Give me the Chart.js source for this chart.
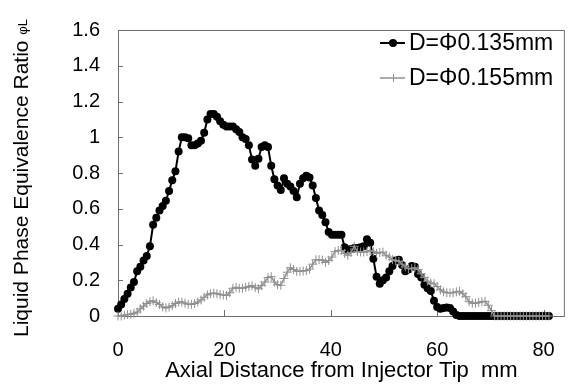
<!DOCTYPE html>
<html>
<head>
<meta charset="utf-8">
<script src="https://cdn.jsdelivr.net/npm/chart.js@4"></script>
<style>
  html, body { margin: 0; padding: 0; background: #fff; }
  canvas { display: block; }
</style>
</head>
<body>
<canvas id="phiChart" width="577" height="390"></canvas>
<script>
// axial distance from injector tip (mm)
const distance = [
  0, 0.6, 1.2, 1.8, 2.4, 3, 3.6, 4.2, 4.8, 5.4,
  6, 6.6, 7.2, 7.8, 8.4, 9, 9.6, 10.2, 10.8, 11.4,
  12, 12.6, 13.2, 13.8, 14.4, 15, 15.6, 16.2, 16.8, 17.4,
  18, 18.6, 19.2, 19.8, 20.4, 21, 21.6, 22.2, 22.8, 23.4,
  24, 24.6, 25.2, 25.8, 26.4, 27, 27.6, 28.2, 28.8, 29.4,
  30, 30.6, 31.2, 31.8, 32.4, 33, 33.6, 34.2, 34.8, 35.4,
  36, 36.6, 37.2, 37.8, 38.4, 39, 39.6, 40.2, 40.8, 41.4,
  42, 42.6, 43.2, 43.8, 44.4, 45, 45.6, 46.2, 46.8, 47.4,
  48, 48.6, 49.2, 49.8, 50.4, 51, 51.6, 52.2, 52.8, 53.4,
  54, 54.6, 55.2, 55.8, 56.4, 57, 57.6, 58.2, 58.8, 59.4,
  60, 60.6, 61.2, 61.8, 62.4, 63, 63.6, 64.2, 64.8, 65.4,
  66, 66.6, 67.2, 67.8, 68.4, 69, 69.6, 70.2, 70.8, 71.4,
  72, 72.6, 73.2, 73.8, 74.4, 75, 75.6, 76.2, 76.8, 77.4,
  78, 78.6, 79.2, 79.8, 80.4, 81
];

// D = 0.135 mm
const phi135 = [
  0.04, 0.065, 0.095, 0.125, 0.16, 0.19, 0.25, 0.275, 0.31, 0.335,
  0.39, 0.51, 0.55, 0.59, 0.615, 0.645, 0.70, 0.76, 0.81, 0.92,
  1.0, 1.0, 0.995, 0.955, 0.955, 0.965, 0.98, 1.025, 1.10, 1.13,
  1.13, 1.115, 1.09, 1.07, 1.06, 1.06, 1.06, 1.045, 1.03, 1.0,
  0.99, 0.955, 0.875, 0.84, 0.88, 0.945, 0.955, 0.945, 0.84, 0.765,
  0.73, 0.705, 0.77, 0.74, 0.725, 0.70, 0.665, 0.74, 0.77, 0.785,
  0.775, 0.73, 0.66, 0.59, 0.565, 0.525, 0.47, 0.455, 0.455, 0.455,
  0.455, 0.385, 0.37, 0.375, 0.38, 0.38, 0.385, 0.39, 0.43, 0.41,
  0.32, 0.22, 0.18, 0.20, 0.215, 0.25, 0.28, 0.31, 0.315, 0.285,
  0.25, 0.26, 0.28, 0.275, 0.235, 0.215, 0.175, 0.155, 0.14, 0.085,
  0.05, 0.04, 0.045, 0.048, 0.045, 0.025, 0.006, 0, 0, 0,
  0, 0, 0, 0, 0, 0, 0, 0, 0, 0,
  0, 0, 0, 0, 0, 0, 0, 0, 0, 0,
  0, 0, 0, 0, 0, 0
];

// D = 0.155 mm
const phi155 = [
  0, 0, 0.005, 0.008, 0.01, 0.015, 0.022, 0.04, 0.055, 0.07,
  0.08, 0.085, 0.075, 0.065, 0.05, 0.045, 0.05, 0.057, 0.07, 0.078,
  0.078, 0.072, 0.066, 0.065, 0.07, 0.078, 0.09, 0.105, 0.118, 0.125,
  0.128, 0.125, 0.12, 0.118, 0.115, 0.13, 0.155, 0.16, 0.155, 0.155,
  0.16, 0.165, 0.17, 0.16, 0.152, 0.17, 0.19, 0.215, 0.22, 0.19,
  0.175, 0.172, 0.21, 0.245, 0.27, 0.26, 0.25, 0.25, 0.252, 0.255,
  0.262, 0.29, 0.315, 0.315, 0.313, 0.30, 0.31, 0.33, 0.36, 0.367,
  0.367, 0.35, 0.34, 0.355, 0.39, 0.36, 0.358, 0.358, 0.36, 0.367,
  0.36, 0.35, 0.355, 0.357, 0.34, 0.33, 0.315, 0.31, 0.305, 0.29,
  0.275, 0.265, 0.265, 0.27, 0.26, 0.236, 0.215, 0.195, 0.185, 0.18,
  0.165, 0.146, 0.135, 0.13, 0.13, 0.13, 0.135, 0.138, 0.125, 0.108,
  0.08, 0.072, 0.072, 0.075, 0.08, 0.082, 0.06, 0.03, 0, 0,
  0, 0, 0, 0, 0, 0, 0, 0, 0, 0,
  0, 0, 0, 0, 0, 0
];

const seriesNames = ['D=\u03A60.135mm', 'D=\u03A60.155mm'];
const xTicks = [0, 20, 40, 60, 80];
const yTicks = [0, 0.2, 0.4, 0.6, 0.8, 1, 1.2, 1.4, 1.6];

const FONT = "'Liberation Sans', Arial, sans-serif";

function pairs(ys) {
  return distance.map((d, i) => ({ x: d, y: ys[i] }));
}

// frame + inward tick marks, y title, legend
const framePlugin = {
  id: 'frame',
  beforeDatasetsDraw(chart) {
    const { ctx, chartArea: a, scales: { x, y } } = chart;
    ctx.save();
    ctx.strokeStyle = '#6e6e6e';
    ctx.lineWidth = 1;
    ctx.strokeRect(a.left + 0.5, a.top + 0.5, a.right - a.left - 1, a.bottom - a.top);
    ctx.beginPath();
    yTicks.forEach(v => {
      const py = Math.round(y.getPixelForValue(v)) + 0.5;
      ctx.moveTo(a.left, py);
      ctx.lineTo(a.left + 5, py);
    });
    xTicks.forEach(v => {
      const px = Math.round(x.getPixelForValue(v)) + 0.5;
      ctx.moveTo(px, a.bottom);
      ctx.lineTo(px, a.bottom - 6);
    });
    ctx.stroke();
    ctx.restore();
  },
  afterDraw(chart) {
    const { ctx } = chart;
    ctx.save();
    const main = 'Liquid Phase Equivalence Ratio ';
    const sub = '\u03C6L';
    ctx.font = '21px ' + FONT;
    const w1 = ctx.measureText(main).width;
    ctx.font = '13px ' + FONT;
    const w2 = ctx.measureText(sub).width;
    ctx.translate(22, 178);
    ctx.rotate(-Math.PI / 2);
    ctx.fillStyle = '#000';
    ctx.textBaseline = 'middle';
    ctx.textAlign = 'left';
    const start = -(w1 + w2) / 2;
    ctx.font = '21px ' + FONT;
    ctx.fillText(main, start, 0);
    ctx.font = '13px ' + FONT;
    ctx.fillText(sub, start + w1, 1);
    ctx.restore();

    ctx.save();
    const ds = chart.data.datasets;
    const rows = [43, 78];
    ds.forEach((d, i) => {
      const yy = rows[i];
      ctx.strokeStyle = d.borderColor;
      ctx.lineWidth = d.borderWidth;
      ctx.beginPath();
      ctx.moveTo(380, yy);
      ctx.lineTo(405, yy);
      ctx.stroke();
      if (d.pointStyle === 'circle') {
        ctx.fillStyle = d.pointBackgroundColor;
        ctx.beginPath();
        ctx.arc(393, yy, d.pointRadius, 0, Math.PI * 2);
        ctx.fill();
      } else {
        ctx.lineWidth = 1;
        ctx.beginPath();
        ctx.moveTo(393.5, yy - 4);
        ctx.lineTo(393.5, yy + 4);
        ctx.stroke();
      }
      ctx.fillStyle = '#000';
      ctx.font = '23px ' + FONT;
      ctx.textBaseline = 'middle';
      ctx.fillText(d.label, 409, yy + 1);
    });
    ctx.restore();
  }
};

new Chart(document.getElementById('phiChart'), {
  type: 'line',
  data: {
    datasets: [
      {
        label: seriesNames[0],
        data: pairs(phi135),
        borderColor: '#000',
        borderWidth: 2,
        pointStyle: 'circle',
        pointRadius: 4,
        pointBackgroundColor: '#000',
        pointBorderColor: '#000',
        pointBorderWidth: 0,
        tension: 0,
        clip: false,
        order: 1
      },
      {
        label: seriesNames[1],
        data: pairs(phi155),
        borderColor: '#909090',
        borderWidth: 1.5,
        pointStyle: 'cross',
        pointRadius: 4.5,
        pointBorderColor: '#909090',
        pointBorderWidth: 1,
        tension: 0,
        clip: false,
        order: 0
      }
    ]
  },
  options: {
    responsive: false,
    animation: false,
    devicePixelRatio: 1,
    layout: { padding: { top: 15, right: 6, left: 0, bottom: 0 } },
    plugins: { legend: { display: false }, tooltip: { enabled: false } },
    scales: {
      x: {
        type: 'linear',
        min: 0,
        max: 84,
        afterBuildTicks: s => { s.ticks = xTicks.map(v => ({ value: v })); },
        afterFit: s => { s.height = 74; },
        grid: { display: false, drawTicks: false },
        border: { display: false },
        ticks: {
          padding: 22,
          color: '#000',
          font: { family: FONT, size: 20 },
          maxRotation: 0,
          autoSkip: false,
          callback: v => String(v)
        },
        title: {
          display: true,
          text: 'Axial Distance from Injector Tip  mm',
          color: '#000',
          font: { family: FONT, size: 22 },
          padding: { top: 0, bottom: 6 }
        }
      },
      y: {
        min: 0,
        max: 1.6,
        afterBuildTicks: s => { s.ticks = yTicks.map(v => ({ value: v })); },
        afterFit: s => { s.width = 118; },
        grid: { display: false, drawTicks: false },
        border: { display: false },
        ticks: {
          padding: 18,
          color: '#000',
          font: { family: FONT, size: 20 },
          autoSkip: false,
          callback: v => String(Number(v.toFixed(1)))
        }
      }
    }
  },
  plugins: [framePlugin]
});
</script>
</body>
</html>
